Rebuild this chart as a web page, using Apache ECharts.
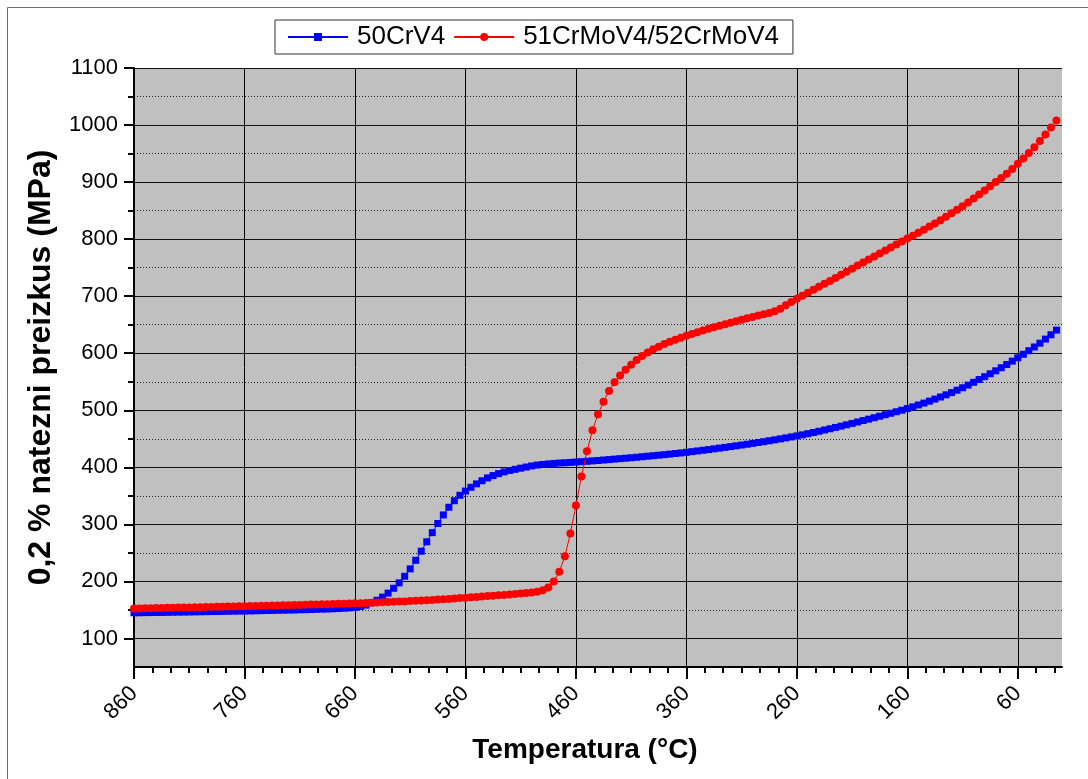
<!DOCTYPE html>
<html>
<head>
<meta charset="utf-8">
<script src="https://cdn.jsdelivr.net/npm/echarts@6/dist/echarts.min.js"></script>
<style>
  html, body { margin: 0; padding: 0; background: #ffffff; }
  #chart { width: 1088px; height: 779px; }
</style>
</head>
<body>
<div id="chart"></div>
<script>
// Sampling temperatures (°C), cooling from 860 °C down to 25 °C
const temperatures = [
  860, 855, 850, 845, 840, 835, 830, 825, 820, 815,
  810, 805, 800, 795, 790, 785, 780, 775, 770, 765,
  760, 755, 750, 745, 740, 735, 730, 725, 720, 715,
  710, 705, 700, 695, 690, 685, 680, 675, 670, 665,
  660, 655, 650, 645, 640, 635, 630, 625, 620, 615,
  610, 605, 600, 595, 590, 585, 580, 575, 570, 565,
  560, 555, 550, 545, 540, 535, 530, 525, 520, 515,
  510, 505, 500, 495, 490, 485, 480, 475, 470, 465,
  460, 455, 450, 445, 440, 435, 430, 425, 420, 415,
  410, 405, 400, 395, 390, 385, 380, 375, 370, 365,
  360, 355, 350, 345, 340, 335, 330, 325, 320, 315,
  310, 305, 300, 295, 290, 285, 280, 275, 270, 265,
  260, 255, 250, 245, 240, 235, 230, 225, 220, 215,
  210, 205, 200, 195, 190, 185, 180, 175, 170, 165,
  160, 155, 150, 145, 140, 135, 130, 125, 120, 115,
  110, 105, 100, 95, 90, 85, 80, 75, 70, 65,
  60, 55, 50, 45, 40, 35, 30, 25
];

// 0.2 % proof stress (MPa), steel 50CrV4
const stress50CrV4 = [
  145.0, 145.1, 145.3, 145.4, 145.6, 145.7, 145.9, 146.0, 146.2, 146.3,
  146.5, 146.7, 146.8, 147.0, 147.2, 147.3, 147.5, 147.7, 147.9, 148.0,
  148.2, 148.4, 148.6, 148.8, 149.0, 149.2, 149.4, 149.6, 149.8, 150.0,
  150.3, 150.5, 150.8, 151.1, 151.4, 151.7, 152.1, 152.5, 153.0, 153.6,
  154.3, 156.0, 158.5, 162.5, 167.0, 172.5, 179.5, 188.0, 197.5, 209.0,
  222.0, 237.0, 253.0, 269.5, 285.5, 301.5, 316.5, 330.0, 341.5, 351.0,
  358.5, 365.0, 371.0, 376.5, 381.5, 385.5, 389.0, 392.0, 394.5, 396.5,
  398.5, 400.5, 402.5, 404.0, 405.0, 406.0, 406.8, 407.5, 408.0, 408.6,
  409.2, 409.9, 410.6, 411.3, 412.0, 412.8, 413.6, 414.4, 415.2, 416.0,
  416.8, 417.7, 418.6, 419.5, 420.4, 421.3, 422.2, 423.2, 424.2, 425.2,
  426.3, 427.5, 428.7, 429.9, 431.1, 432.4, 433.7, 435.0, 436.3, 437.7,
  439.1, 440.5, 442.0, 443.5, 445.0, 446.6, 448.2, 449.9, 451.6, 453.3,
  455.0, 457.0, 459.0, 461.1, 463.2, 465.4, 467.6, 469.9, 472.2, 474.6,
  477.0, 479.5, 482.0, 484.5, 487.0, 489.6, 492.2, 494.8, 497.4, 500.1,
  503.0, 506.1, 509.3, 512.6, 516.0, 519.6, 523.3, 527.1, 531.0, 535.2,
  539.5, 544.1, 549.0, 553.9, 558.9, 564.0, 569.2, 574.6, 580.3, 586.1,
  592.0, 598.2, 604.5, 611.0, 617.6, 624.8, 632.4, 640.5
];

// 0.2 % proof stress (MPa), steels 51CrMoV4 / 52CrMoV4
const stress51CrMoV4 = [
  152.5, 152.7, 152.9, 153.1, 153.3, 153.5, 153.7, 153.9, 154.1, 154.3,
  154.5, 154.7, 154.9, 155.1, 155.3, 155.5, 155.7, 155.9, 156.1, 156.3,
  156.6, 156.8, 157.0, 157.2, 157.5, 157.7, 157.9, 158.2, 158.4, 158.6,
  158.9, 159.1, 159.4, 159.6, 159.9, 160.1, 160.4, 160.7, 161.0, 161.3,
  161.6, 161.9, 162.3, 162.6, 163.0, 163.4, 163.8, 164.2, 164.6, 165.0,
  165.5, 166.0, 166.5, 167.0, 167.6, 168.2, 168.8, 169.4, 170.1, 170.8,
  171.5, 172.2, 172.9, 173.6, 174.3, 175.0, 175.7, 176.4, 177.1, 177.9,
  178.7, 179.6, 180.6, 182.0, 184.5, 189.5, 200.0, 217.0, 244.0, 284.0,
  333.0, 384.0, 428.0, 465.0, 493.0, 515.0, 534.0, 549.0, 561.0, 571.0,
  580.0, 588.0, 595.0, 601.5, 607.0, 611.5, 616.0, 620.0, 623.8, 627.3,
  630.6, 633.8, 636.9, 639.9, 642.8, 645.6, 648.3, 651.0, 653.6, 656.2,
  658.7, 661.2, 663.6, 666.0, 668.3, 670.6, 673.5, 678.0, 684.0, 690.0,
  695.5, 700.8, 706.0, 711.2, 716.4, 721.6, 726.8, 732.0, 737.4, 742.8,
  748.2, 753.6, 759.0, 764.3, 769.6, 774.9, 780.2, 785.5, 790.7, 795.9,
  801.0, 806.0, 811.2, 816.5, 822.0, 827.6, 833.3, 839.2, 845.2, 851.4,
  857.8, 864.4, 871.2, 878.2, 885.4, 892.8, 900.0, 907.3, 914.8, 923.0,
  932.0, 941.3, 951.0, 961.2, 972.0, 983.4, 995.5, 1008.0
];

// Labelled axis ticks
const xTickValues = [860, 760, 660, 560, 460, 360, 260, 160, 60];
const yTickValues = [100, 200, 300, 400, 500, 600, 700, 800, 900, 1000, 1100];

const seriesNames = ['50CrV4', '51CrMoV4/52CrMoV4'];

// Axis extents
const X_MIN = 20, X_MAX = 860;
const Y_MIN = 50, Y_MAX = 1100;

// Five minor ticks between labelled temperatures, continuing past the last label
const xMinorTicks = [];
xTickValues.forEach(function (m) {
  for (let k = 1; k <= 5; k++) {
    const v = m - k * 100 / 6;
    if (v >= X_MIN) xMinorTicks.push(v);
  }
});
// One minor tick halfway between stress labels
const yMinorTicks = [];
for (let i = 0; i < yTickValues.length - 1; i++) {
  yMinorTicks.push((yTickValues[i] + yTickValues[i + 1]) / 2);
}

const FONT = "'Liberation Sans', Arial, sans-serif";

function pairs(xs, ys) {
  return xs.map(function (x, i) { return [x, ys[i]]; });
}
function plainNumber(v) {
  return String(Math.round(v));
}

const chart = echarts.init(document.getElementById('chart'), null, { renderer: 'canvas' });

chart.setOption({
  animation: false,
  backgroundColor: '#ffffff',
  textStyle: { fontFamily: FONT, color: '#000' },
  graphic: [
    { type: 'line', shape: { x1: 7.5, y1: 7.5, x2: 1088, y2: 7.5 }, style: { stroke: '#6e6e6e', lineWidth: 1 }, silent: true },
    { type: 'line', shape: { x1: 7.5, y1: 7.5, x2: 7.5, y2: 779 }, style: { stroke: '#6e6e6e', lineWidth: 1 }, silent: true }
  ],
  legend: {
    left: 275,
    top: 20,
    orient: 'horizontal',
    padding: [4, 14, 4, 12],
    itemGap: 8,
    itemWidth: 60,
    itemHeight: 10,
    borderColor: '#333',
    borderWidth: 1,
    backgroundColor: '#fff',
    borderRadius: 0,
    textStyle: { fontFamily: FONT, fontSize: 26, color: '#000', padding: [0, 0, 0, 4] },
    data: seriesNames
  },
  grid: {
    left: 134,
    right: 26,
    top: 68,
    bottom: 112,
    show: true,
    backgroundColor: '#c0c0c0',
    borderWidth: 0
  },
  xAxis: [
    {
      type: 'value',
      min: X_MIN,
      max: X_MAX,
      inverse: true,
      position: 'bottom',
      name: 'Temperatura (°C)',
      nameLocation: 'middle',
      nameGap: 69,
      nameTextStyle: { fontFamily: FONT, fontSize: 28, fontWeight: 'bold', color: '#000', padding: [0, 26, 0, 0] },
      axisLine: { show: true, onZero: false, lineStyle: { color: '#000', width: 2 } },
      axisTick: { show: true, inside: false, length: 12, customValues: xTickValues, lineStyle: { color: '#000', width: 2 } },
      axisLabel: {
        show: true,
        customValues: xTickValues,
        rotate: 45,
        margin: 23,
        fontFamily: FONT,
        fontSize: 22,
        color: '#000',
        formatter: plainNumber
      },
      splitLine: { show: true, lineStyle: { color: '#000', width: 1 } },
      minorTick: { show: false },
      minorSplitLine: { show: false }
    },
    {
      type: 'value',
      min: X_MIN,
      max: X_MAX,
      inverse: true,
      position: 'bottom',
      offset: 0,
      axisLine: { show: false },
      axisTick: { show: true, inside: false, length: 6, customValues: xMinorTicks, lineStyle: { color: '#000', width: 2 } },
      axisLabel: { show: false },
      splitLine: { show: false }
    }
  ],
  yAxis: [
    {
      type: 'value',
      min: Y_MIN,
      max: Y_MAX,
      position: 'left',
      name: '0,2 % natezni preizkus (MPa)',
      nameLocation: 'middle',
      nameRotate: 90,
      nameGap: 77,
      nameTextStyle: { fontFamily: FONT, fontSize: 32, fontWeight: 'bold', color: '#000' },
      axisLine: { show: true, onZero: false, lineStyle: { color: '#000', width: 2 } },
      axisTick: { show: true, inside: false, length: 10, customValues: yTickValues, lineStyle: { color: '#000', width: 2 } },
      axisLabel: {
        show: true,
        customValues: yTickValues,
        margin: 16,
        fontFamily: FONT,
        fontSize: 22,
        color: '#000',
        formatter: plainNumber
      },
      splitLine: { show: true, lineStyle: { color: '#111', width: 1 } }
    },
    {
      type: 'value',
      min: Y_MIN,
      max: Y_MAX,
      position: 'left',
      offset: 0,
      axisLine: { show: false },
      axisTick: { show: true, inside: false, length: 6, customValues: yMinorTicks, lineStyle: { color: '#000', width: 2 } },
      axisLabel: { show: false },
      splitLine: { show: true, lineStyle: { color: '#222', width: 1, type: [1, 2] } }
    }
  ],
  series: [
    {
      name: seriesNames[0],
      type: 'line',
      xAxisIndex: 0,
      yAxisIndex: 0,
      data: pairs(temperatures, stress50CrV4),
      symbol: 'rect',
      symbolSize: 7,
      showAllSymbol: true,
      color: '#0000ff',
      itemStyle: { color: '#0000ff' },
      lineStyle: { color: '#0000ff', width: 1 },
      z: 3
    },
    {
      name: seriesNames[1],
      type: 'line',
      xAxisIndex: 0,
      yAxisIndex: 0,
      data: pairs(temperatures, stress51CrMoV4),
      symbol: 'circle',
      symbolSize: 8,
      showAllSymbol: true,
      color: '#ff0000',
      itemStyle: { color: '#ff0000' },
      lineStyle: { color: '#ff0000', width: 1 },
      z: 4
    }
  ]
});
</script>
</body>
</html>
